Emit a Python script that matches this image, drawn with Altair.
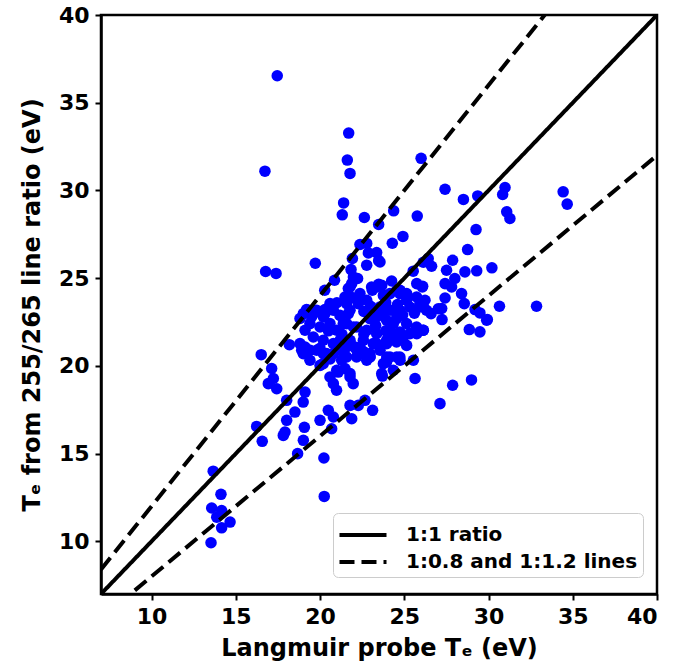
import altair as alt
import pandas as pd

# Langmuir probe Te (x) and line-ratio Te (y), eV
lp_te = [
    17.46, 21.70, 21.62, 21.78, 16.73, 26.00, 21.40, 21.32, 22.63, 24.37,
    25.77, 23.48, 24.92, 24.29, 22.37, 22.77, 22.87, 23.36, 23.48, 22.77,
    21.92, 21.84, 19.72, 16.77, 17.39, 20.86, 20.28, 26.13, 25.53, 26.07,
    24.25, 24.75, 23.48, 23.10, 22.37, 21.68, 22.23, 21.58, 19.20, 20.29,
    27.42, 28.51, 29.36, 30.98, 30.84, 31.08, 31.27, 34.43, 34.67, 29.26,
    28.76, 30.20, 29.30, 28.60, 27.87, 27.51, 28.00, 27.42, 27.81, 28.40,
    27.42, 27.22, 27.24, 28.56, 29.20, 29.49, 29.93, 30.65, 32.85, 28.86,
    29.49, 26.59, 26.09, 26.42, 26.62, 26.23, 26.13, 29.89,
    23.70, 25.64, 27.87, 28.99, 27.12,
    16.51, 17.13, 17.23, 16.93, 17.43, 18.18, 18.91, 18.81, 19.30, 19.90,
    20.98, 20.59, 21.08, 21.48, 21.97, 21.78, 19.11, 19.00, 18.02, 16.24,
    16.57, 18.51, 18.02, 17.92, 17.82, 19.07, 19.01, 18.67, 20.00, 20.49,
    20.79, 20.69, 20.23, 20.25, 13.66, 14.12, 13.57, 14.16, 13.87, 14.66,
    14.16, 13.53, 21.88, 21.78, 22.27, 22.67, 23.12, 23.96, 22.96, 20.00,
    21.28,
    23.56, 21.98, 21.78, 23.06, 23.66, 21.58, 22.27, 22.77, 23.76, 24.15,
    23.56, 24.35, 19.80, 20.29, 19.40, 20.00, 20.59, 20.99, 21.38, 19.11,
    19.60, 20.19, 20.79, 19.11, 19.80, 20.39, 21.18, 21.78, 22.17, 22.77,
    22.37, 23.16, 22.96, 23.56, 23.95, 24.15, 23.76, 24.55, 19.01, 19.40,
    20.19, 22.17, 22.77, 23.36, 22.96, 21.18, 21.68, 20.59, 21.98,
    24.74, 25.14, 25.73, 27.02, 23.36, 23.55, 24.74, 25.33, 25.93, 26.32,
    23.36, 23.95, 24.54, 25.14, 25.73, 26.13, 25.33, 24.74, 23.36, 23.95,
    24.54, 25.14, 24.74, 23.95,
    21.88, 21.48, 24.15, 24.55, 25.14, 25.74, 19.01, 20.20, 20.79, 21.78,
    21.58, 22.97, 23.76, 24.55, 25.93, 24.15, 24.95, 25.74, 23.36, 22.57,
    21.19, 18.81, 19.41, 20.20, 20.79, 21.58, 22.18, 22.97, 23.96, 24.75,
    24.35, 23.66, 25.54, 20.99, 21.78, 20.79,
    21.00, 21.90, 22.60, 23.00, 23.90, 24.60, 20.50, 21.30, 22.00, 22.60,
    23.30, 23.90, 24.30, 20.00, 21.50, 22.60, 24.90, 25.60, 20.60, 19.50,
]
ratio_te = [
    36.54, 33.27, 31.73, 30.97, 31.10, 31.83, 29.29, 28.61, 28.46, 28.84,
    28.54, 28.06, 27.38, 26.99, 26.92, 26.98, 26.44, 26.46, 26.00, 25.74,
    26.12, 25.49, 25.85, 25.38, 25.27, 24.88, 24.31, 25.91, 25.40, 24.50,
    24.84, 24.31, 24.65, 24.31, 24.12, 24.41, 24.98, 23.93, 23.21, 23.21,
    30.07, 29.49, 29.69, 30.17, 29.77, 28.78, 28.40, 29.92, 29.22, 27.77,
    26.63, 25.59, 25.42, 25.36, 26.02, 25.45, 24.98, 24.69, 24.50, 24.12,
    23.87, 23.27, 22.64, 23.55, 23.21, 23.02, 22.64, 23.40, 23.40, 22.07,
    21.94, 22.98, 24.54, 26.12, 25.68, 23.74, 22.03, 22.60,
    19.42, 19.28, 18.90, 19.20, 17.85,
    20.64, 19.85, 19.28, 18.99, 18.70, 21.21, 20.89, 22.70, 23.17, 23.07,
    18.61, 19.37, 19.65, 19.85, 18.99, 19.56, 18.51, 17.94, 18.04, 16.55,
    15.70, 17.37, 16.90, 16.23, 16.04, 16.50, 15.76, 15.00, 16.90, 17.47,
    17.09, 16.42, 14.75, 12.56, 14.00, 12.68, 11.90, 11.76, 11.38, 11.10,
    10.77, 9.92, 16.99, 17.75, 17.75, 18.04, 17.47, 20.32, 20.51, 20.03,
    20.32,
    25.92, 25.07, 24.50, 24.50, 24.59, 23.55, 23.55, 23.74, 24.02, 23.17,
    22.98, 22.41, 23.17, 22.98, 22.41, 22.22, 22.41, 22.03, 22.41, 22.03,
    21.65, 21.46, 21.27, 21.08, 20.89, 20.70, 20.89, 21.46, 22.22, 22.03,
    21.08, 21.27, 20.70, 20.89, 21.27, 20.51, 20.13, 20.51, 20.70, 20.32,
    20.13, 20.51, 20.32, 22.98, 22.69, 22.88, 22.98, 23.55, 22.22,
    24.12, 23.74, 23.93, 23.26, 24.50, 23.36, 23.17, 23.36, 23.55, 23.17,
    22.79, 22.60, 22.69, 22.41, 22.22, 22.03, 21.84, 21.93, 21.84, 21.46,
    21.36, 21.17, 20.51, 20.22,
    24.69, 23.93, 24.12, 24.31, 24.12, 24.69, 22.98, 22.79, 23.17, 23.17,
    22.41, 22.98, 23.17, 22.98, 23.36, 22.03, 21.65, 21.84, 21.27, 21.46,
    21.46, 21.27, 20.89, 20.70, 20.70, 20.51, 20.89, 20.51, 20.51, 20.32,
    19.75, 19.56, 20.32, 19.75, 19.37, 18.99,
    23.60, 23.90, 23.10, 23.40, 23.60, 23.50, 22.00, 21.80, 21.10, 21.80,
    22.30, 22.00, 21.70, 21.00, 21.00, 20.80, 22.90, 23.00, 20.40, 22.80,
]

# reference lines: slope, legend label
line_slopes = [1.0, 0.8, 1.2]
line_labels = ["1:1 ratio", "1:0.8 and 1:1.2 lines", "1:0.8 and 1:1.2 lines"]
x_ends = [7, 40]
ticks = [10, 15, 20, 25, 30, 35, 40]

pts = pd.DataFrame({"x": lp_te, "y": ratio_te})
rows = []
for s, lab in zip(line_slopes, line_labels):
    for xe in x_ends:
        rows.append({"x": xe, "y": s * xe, "slope": str(s), "kind": lab})
lines = pd.DataFrame(rows)

FONT = "DejaVu Sans"
xs = alt.Scale(domain=[7, 40], nice=False, zero=False)
ys = alt.Scale(domain=[7, 40], nice=False, zero=False)

xaxis = alt.Axis(values=ticks, format="d", title="Langmuir probe Tₑ (eV)", grid=False)
yaxis = alt.Axis(values=ticks, format="d", title="Tₑ from 255/265 line ratio (eV)", grid=False)

scatter = alt.Chart(pts).mark_circle(size=133, color="#0000ff", opacity=1).encode(
    x=alt.X("x:Q", scale=xs, axis=xaxis),
    y=alt.Y("y:Q", scale=ys, axis=yaxis),
)

line = alt.Chart(lines).mark_line(color="black", strokeWidth=4, clip=True).encode(
    x=alt.X("x:Q", scale=xs),
    y=alt.Y("y:Q", scale=ys),
    detail="slope:N",
    strokeDash=alt.StrokeDash(
        "kind:N",
        scale=alt.Scale(domain=["1:1 ratio", "1:0.8 and 1:1.2 lines"], range=[[1, 0], [15, 7]]),
        legend=alt.Legend(
            title=None,
            orient="none",
            legendX=232,
            legendY=498,
            symbolType="M-1.567,0H1.567",
            symbolSize=900,
            symbolStrokeWidth=4,
            symbolStrokeColor="black",
            symbolOffset=8,
            labelFont=FONT,
            labelFontSize=20,
            labelFontWeight="bold",
            labelColor="black",
            labelOffset=26,
            labelLimit=0,
            rowPadding=0,
            padding=5,
            fillColor="rgba(255,255,255,0.85)",
            strokeColor="#cccccc",
            cornerRadius=5,
        ),
    ),
)

chart = alt.layer(scatter, line).properties(
    width=556,
    height=579,
    autosize=alt.AutoSizeParams(type="none"),
    padding={"left": 101, "top": 15, "right": 32, "bottom": 76},
).configure_view(stroke="black", strokeWidth=2.5).configure_axis(
    domainColor="black",
    domainWidth=2.5,
    tickColor="black",
    tickWidth=2,
    tickSize=6,
    labelFont=FONT,
    labelFontSize=22,
    labelFontWeight="bold",
    labelColor="black",
    labelPadding=6,
    titleFont=FONT,
    titleFontSize=24,
    titleFontWeight="bold",
    titleColor="black",
).configure_axisX(titlePadding=9).configure_axisY(titlePadding=14)

chart.save("out.html", embed_options={"renderer": "svg", "actions": False})
